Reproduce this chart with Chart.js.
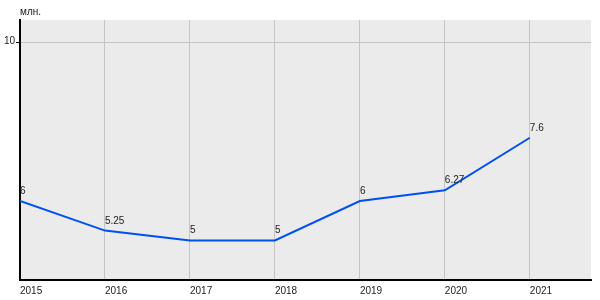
<!DOCTYPE html>
<html>
<head>
<meta charset="utf-8">
<script src="https://cdn.jsdelivr.net/npm/chart.js@4"></script>
<style>
  html, body { margin: 0; padding: 0; background: #fff; }
  #wrap { width: 600px; height: 300px; }
</style>
</head>
<body>
<div id="wrap"><canvas id="chart"></canvas></div>
<script>
// chart data
const years = [2015, 2016, 2017, 2018, 2019, 2020, 2021];
const values = [6, 5.25, 5, 5, 6, 6.27, 7.6];
const yTicks = [10];
const unitLabel = 'млн.';

const FONT = '"Liberation Sans", Arial, sans-serif';

// grey plot background
const plotBackground = {
    id: 'plotBackground',
    beforeDraw(chart) {
        const { ctx, chartArea: a } = chart;
        ctx.save();
        ctx.fillStyle = '#ebebeb';
        ctx.fillRect(a.left, a.top, a.right - a.left, a.bottom - a.top);
        ctx.restore();
    }
};

// unit caption and value labels
const valueLabels = {
    id: 'valueLabels',
    afterDatasetsDraw(chart) {
        const ctx = chart.ctx;
        const meta = chart.getDatasetMeta(0);
        ctx.save();
        ctx.font = '10px ' + FONT;
        ctx.fillStyle = '#222';
        ctx.textAlign = 'left';
        ctx.textBaseline = 'alphabetic';
        meta.data.forEach((pt, i) => {
            ctx.fillText(String(values[i]), pt.x, pt.y - 7);
        });
        ctx.fillText(unitLabel, chart.chartArea.left, 15);
        ctx.restore();
    }
};

const ctx = document.getElementById('chart').getContext('2d');

new Chart(ctx, {
    type: 'line',
    data: {
        datasets: [{
            data: years.map((y, i) => ({ x: y, y: values[i] })),
            borderColor: '#0050f0',
            borderWidth: 2,
            pointRadius: 0,
            tension: 0,
            fill: false
        }]
    },
    options: {
        responsive: true,
        maintainAspectRatio: false,
        animation: false,
        layout: {
            padding: { left: 0, right: 9, top: 20, bottom: 0 }
        },
        plugins: {
            legend: { display: false },
            tooltip: { enabled: false }
        },
        scales: {
            x: {
                type: 'linear',
                min: 2015,
                max: 2021.72,
                afterBuildTicks: scale => {
                    scale.ticks = years.map(v => ({ value: v }));
                },
                afterFit: scale => { scale.height = 20; },
                grid: {
                    color: '#c4c4c4',
                    lineWidth: 1,
                    drawTicks: false
                },
                border: { color: '#000', width: 2 },
                ticks: {
                    align: 'start',
                    padding: 5,
                    color: '#222',
                    font: { family: FONT, size: 10 },
                    maxRotation: 0,
                    autoSkip: false,
                    callback: v => String(v)
                }
            },
            y: {
                min: 4,
                max: 10.58,
                afterBuildTicks: scale => {
                    scale.ticks = yTicks.map(v => ({ value: v }));
                },
                afterFit: scale => { scale.width = 20; },
                grid: {
                    color: '#c4c4c4',
                    lineWidth: 1,
                    tickLength: 4,
                    tickColor: '#000'
                },
                border: { color: '#000', width: 2 },
                ticks: {
                    padding: 1,
                    labelOffset: -2,
                    color: '#222',
                    font: { family: FONT, size: 10 },
                    callback: v => String(v)
                }
            }
        }
    },
    plugins: [plotBackground, valueLabels]
});
</script>
</body>
</html>
